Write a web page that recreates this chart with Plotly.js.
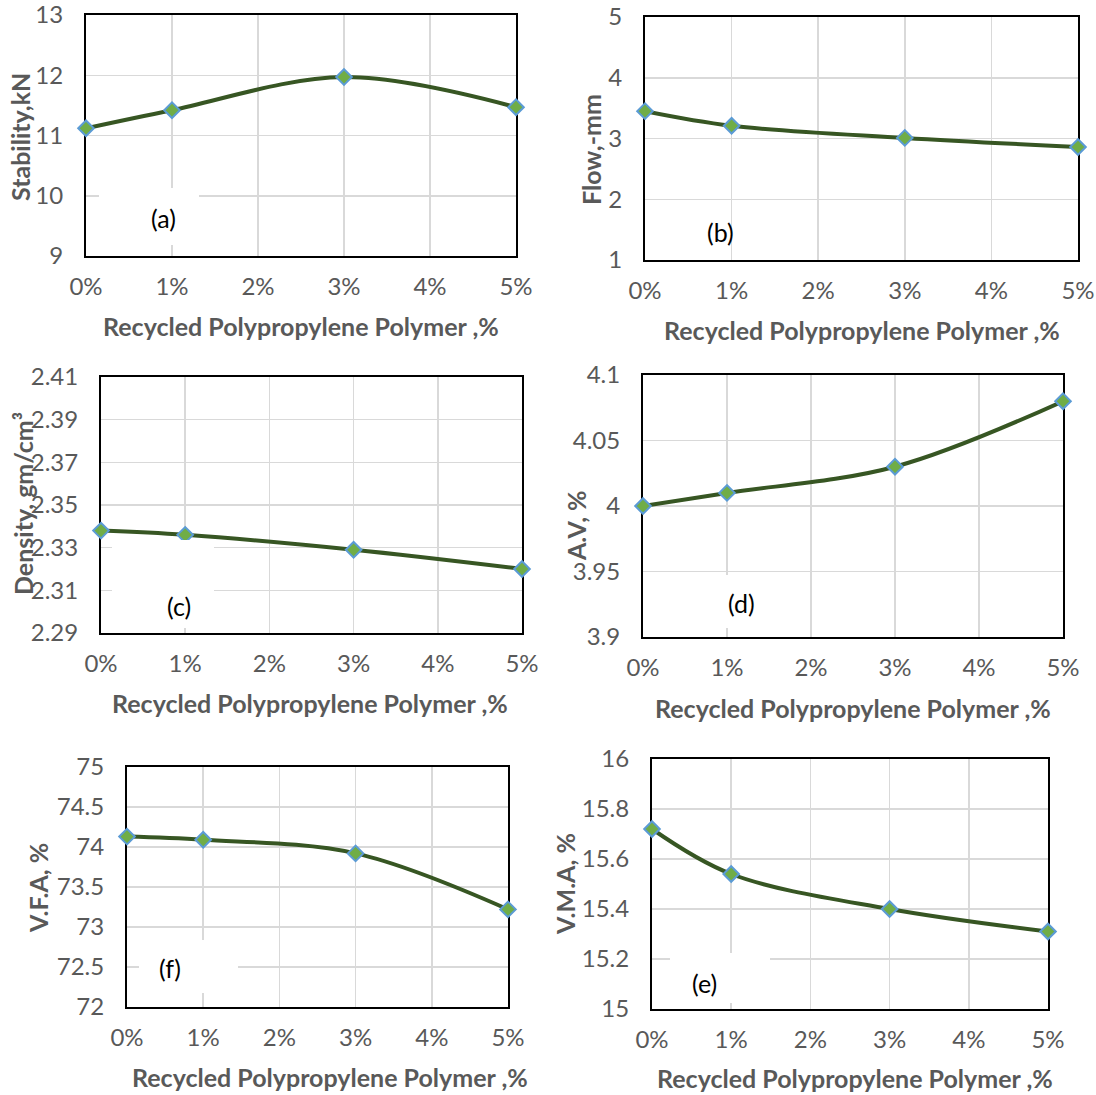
<!DOCTYPE html>
<html>
<head>
<meta charset="utf-8">
<script src="https://cdn.plot.ly/plotly-3.0.1.min.js"></script>
<style>html,body{margin:0;padding:0;background:#fff;}#chart{width:1096px;height:1095px;}</style>
</head>
<body>
<div id="chart"></div>
<script>
// ---- data ----
const polymer = [0, 1, 3, 5];
const xTickVals = [0, 1, 2, 3, 4, 5];
const xTickText = ['0%', '1%', '2%', '3%', '4%', '5%'];
const stability = [11.12, 11.42, 11.97, 11.47];
const flow = [3.45, 3.21, 3.01, 2.86];
const density = [2.338, 2.336, 2.329, 2.320];
const airVoids = [4.00, 4.01, 4.03, 4.08];
const vfa = [74.13, 74.09, 73.92, 73.22];
const vma = [15.72, 15.54, 15.40, 15.31];
const yTitles = ['Stability,kN', 'Flow,-mm', 'Density, gm/cm³', 'A.V, %', 'V.F.A, %', 'V.M.A, %'];
const panelLabels = ['(a)', '(b)', '(c)', '(d)', '(f)', '(e)'];
const xTitle = 'Recycled Polypropylene Polymer ,%';

// ---- layout geometry (pixels) ----
const W = 1096, H = 1095;
const panels = [
  {series: stability, box: [86, 516, 15, 256],  yr: [9, 13],      dt: 1,    ytc: [20, 137],  xtc: [301, 326],  lab: [163, 218], wb: [99, 199, 188, 245]},
  {series: flow,      box: [645, 1078, 17, 260], yr: [1, 5],      dt: 1,    ytc: [591, 150], xtc: [862, 330],  lab: [720, 232], wb: null},
  {series: density,   box: [101, 522, 377, 633], yr: [2.29, 2.41], dt: 0.02, ytc: [23, 504],  xtc: [310, 703],  lab: [179, 606], wb: [112, 214, 540, 628]},
  {series: airVoids,  box: [643, 1063, 375, 637], yr: [3.9, 4.1], dt: 0.05, ytc: [576, 526], xtc: [853, 708],  lab: [741, 603], wb: [690, 790, 575, 628]},
  {series: vfa,       box: [127, 508, 767, 1007], yr: [72, 75],   dt: 0.5,  ytc: [38, 888],  xtc: [330, 1077], lab: [170, 968], wb: [139, 238, 940, 993]},
  {series: vma,       box: [652, 1048, 759, 1009], yr: [15, 16],  dt: 0.2,  ytc: [565, 884], xtc: [855, 1078], lab: [704, 983], wb: [670, 770, 953, 1003]}
];

const FONT = 'Lato, "Open Sans", sans-serif';
const GRAY = '#595959';
const traces = [];
const layout = {
  width: W, height: H,
  margin: {l: 0, r: 0, t: 0, b: 0},
  paper_bgcolor: '#fff', plot_bgcolor: '#fff',
  showlegend: false,
  font: {family: FONT, color: GRAY},
  annotations: [], shapes: []
};

panels.forEach((p, i) => {
  const n = i + 1;
  const xa = 'x' + n, ya = 'y' + n;
  const [l, r, t, b] = p.box;
  traces.push({
    x: polymer, y: p.series, xaxis: xa, yaxis: ya,
    type: 'scatter', mode: 'lines+markers',
    line: {color: '#375623', width: 4, shape: 'spline', smoothing: 1},
    marker: {symbol: 'diamond', size: 12, color: '#70AD47', line: {color: '#5B9BD5', width: 2}},
    cliponaxis: false, hoverinfo: 'x+y'
  });
  layout['xaxis' + (n === 1 ? '' : n)] = {
    domain: [l / W, r / W], anchor: ya, range: [0, 5],
    tickmode: 'array', tickvals: xTickVals, ticktext: xTickText,
    showgrid: true, gridcolor: '#d9d9d9', gridwidth: 1.5, zeroline: false,
    showline: true, mirror: true, linecolor: '#000', linewidth: 2,
    ticks: '', ticklabelstandoff: 8, ticklabeloverflow: 'allow',
    tickfont: {family: FONT, size: 24, color: GRAY},
    layer: 'below traces', fixedrange: true
  };
  layout['yaxis' + (n === 1 ? '' : n)] = {
    domain: [1 - b / H, 1 - t / H], anchor: xa, range: p.yr,
    tick0: p.yr[0], dtick: p.dt,
    showgrid: true, gridcolor: '#d9d9d9', gridwidth: 1.5, zeroline: false,
    showline: true, mirror: true, linecolor: '#000', linewidth: 2,
    ticks: '', ticklabelstandoff: 16, ticklabeloverflow: 'allow',
    tickfont: {family: FONT, size: 24, color: GRAY},
    layer: 'below traces', fixedrange: true
  };
  if (p.wb) {
    layout.shapes.push({
      type: 'rect', xref: 'paper', yref: 'paper', layer: 'above',
      x0: p.wb[0] / W, x1: p.wb[1] / W,
      y0: 1 - p.wb[3] / H, y1: 1 - p.wb[2] / H,
      fillcolor: '#fff', line: {width: 0}
    });
  }
  // y title
  layout.annotations.push({
    xref: 'paper', yref: 'paper', x: p.ytc[0] / W, y: 1 - p.ytc[1] / H,
    xanchor: 'center', yanchor: 'middle', textangle: -90, showarrow: false,
    text: '<b>' + yTitles[i] + '</b>', font: {family: FONT, size: 25, color: GRAY}
  });
  // x title
  layout.annotations.push({
    xref: 'paper', yref: 'paper', x: p.xtc[0] / W, y: 1 - p.xtc[1] / H,
    xanchor: 'center', yanchor: 'middle', showarrow: false,
    text: '<b>' + xTitle + '</b>', font: {family: FONT, size: 25, color: GRAY}
  });
  // panel label
  layout.annotations.push({
    xref: 'paper', yref: 'paper', x: p.lab[0] / W, y: 1 - p.lab[1] / H,
    xanchor: 'center', yanchor: 'middle', showarrow: false,
    text: panelLabels[i], font: {family: FONT, size: 25, color: '#000'}
  });
});

Plotly.newPlot('chart', traces, layout, {displayModeBar: false, staticPlot: true});
</script>
</body>
</html>
